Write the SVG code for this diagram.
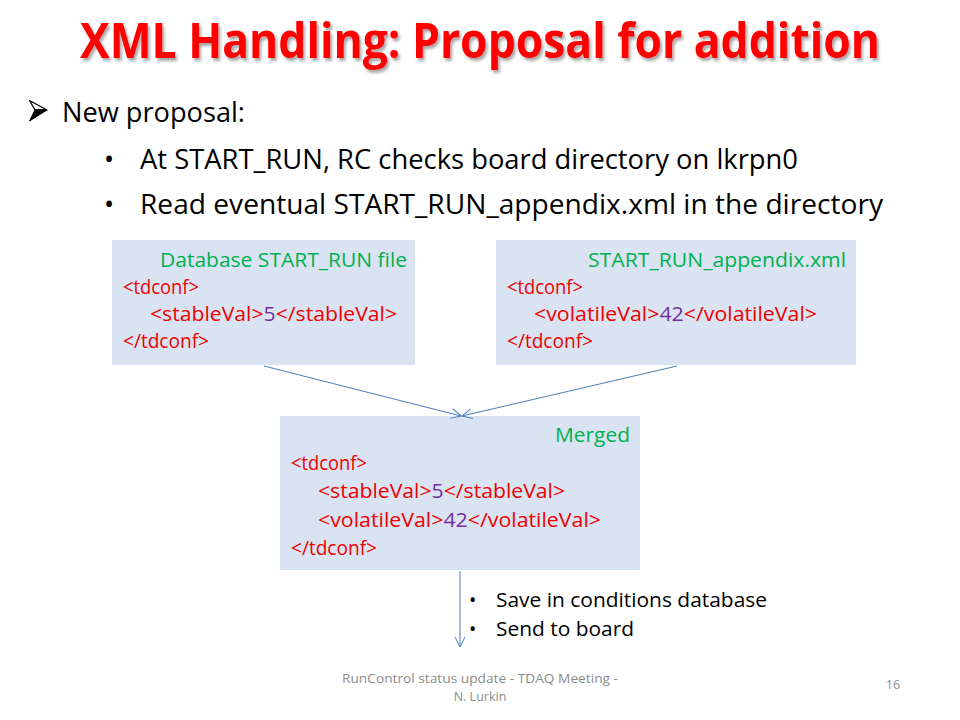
<svg xmlns="http://www.w3.org/2000/svg" width="960" height="720" viewBox="0 0 960 720">
<defs>
<style>
.t{font-family:"Open Sans","Liberation Sans",sans-serif;}
.box{fill:#dae3f1;}
.g{fill:#00b050;font-size:19.5px;}
.r{fill:#f00000;font-size:19.5px;}
.p{fill:#7030a0;}
.body{fill:#000;font-size:27px;}
.small{fill:#000;font-size:19.5px;}
.foot{fill:#8c8c8c;font-size:12.5px;}
.conn{stroke:#4a7ebb;stroke-width:1;fill:none;}
</style>
<marker id="ah" viewBox="0 0 12 12" refX="11" refY="6" markerWidth="12" markerHeight="12" markerUnits="userSpaceOnUse" orient="auto">
<path d="M1,1 L11,6 L1,11" fill="none" stroke="#4a7ebb" stroke-width="1"/>
</marker>
<filter id="sh" x="-5%" y="-20%" width="110%" height="150%">
<feDropShadow dx="2" dy="3" stdDeviation="1.5" flood-color="#000" flood-opacity="0.35"/>
</filter>
</defs>
<rect width="960" height="720" fill="#ffffff"/>

<g id="title">
<text class="t" x="480" y="58" text-anchor="middle" font-size="48" font-weight="bold" fill="#ff0000" filter="url(#sh)" textLength="800" lengthAdjust="spacingAndGlyphs">XML Handling: Proposal for addition</text>
</g>

<g id="bullets">
<g id="arrow-bullet">
<polygon points="29.5,100.5 47,110 35,110" fill="#ffffff" stroke="#000" stroke-width="1.3" stroke-linejoin="round"/>
<polygon points="35,110 47,110 29.5,121" fill="#000" stroke="#000" stroke-width="1" stroke-linejoin="round"/>
</g>
<text class="t body" x="62" y="122" textLength="183" lengthAdjust="spacingAndGlyphs">New proposal:</text>
<text class="t body" x="104" y="169">•</text>
<text class="t body" x="140" y="169" textLength="658" lengthAdjust="spacingAndGlyphs">At START_RUN, RC checks board directory on lkrpn0</text>
<text class="t body" x="104" y="214">•</text>
<text class="t body" x="140" y="214" textLength="743" lengthAdjust="spacingAndGlyphs">Read eventual START_RUN_appendix.xml in the directory</text>
</g>

<g id="db-file">
<rect class="box" x="112" y="240" width="303" height="125"/>
<text class="t g" x="160" y="267" textLength="247" lengthAdjust="spacingAndGlyphs">Database START_RUN file</text>
<text class="t r" x="123" y="294" textLength="76" lengthAdjust="spacingAndGlyphs">&lt;tdconf&gt;</text>
<text class="t r" x="150" y="321" textLength="247" lengthAdjust="spacingAndGlyphs">&lt;stableVal&gt;<tspan class="p">5</tspan>&lt;/stableVal&gt;</text>
<text class="t r" x="123" y="348" textLength="86" lengthAdjust="spacingAndGlyphs">&lt;/tdconf&gt;</text>
</g>

<g id="appendix-file">
<rect class="box" x="496" y="240" width="360" height="125"/>
<text class="t g" x="588" y="267" textLength="258" lengthAdjust="spacingAndGlyphs">START_RUN_appendix.xml</text>
<text class="t r" x="507" y="294" textLength="76" lengthAdjust="spacingAndGlyphs">&lt;tdconf&gt;</text>
<text class="t r" x="534" y="321" textLength="283" lengthAdjust="spacingAndGlyphs">&lt;volatileVal&gt;<tspan class="p">42</tspan>&lt;/volatileVal&gt;</text>
<text class="t r" x="507" y="348" textLength="86" lengthAdjust="spacingAndGlyphs">&lt;/tdconf&gt;</text>
</g>

<g id="merged">
<rect class="box" x="280" y="416" width="360" height="154"/>
<text class="t g" x="630" y="442" text-anchor="end" textLength="75" lengthAdjust="spacingAndGlyphs">Merged</text>
<text class="t r" x="291" y="470" textLength="76" lengthAdjust="spacingAndGlyphs">&lt;tdconf&gt;</text>
<text class="t r" x="318" y="498" textLength="247" lengthAdjust="spacingAndGlyphs">&lt;stableVal&gt;<tspan class="p">5</tspan>&lt;/stableVal&gt;</text>
<text class="t r" x="318" y="527" textLength="283" lengthAdjust="spacingAndGlyphs">&lt;volatileVal&gt;<tspan class="p">42</tspan>&lt;/volatileVal&gt;</text>
<text class="t r" x="291" y="555" textLength="86" lengthAdjust="spacingAndGlyphs">&lt;/tdconf&gt;</text>
</g>

<g id="connectors">
<line class="conn" x1="264" y1="366" x2="461" y2="416" marker-end="url(#ah)"/>
<line class="conn" x1="677" y1="366" x2="462" y2="416" marker-end="url(#ah)"/>
<line class="conn" x1="460" y1="571" x2="460" y2="647" marker-end="url(#ah)"/>
</g>

<g id="actions">
<text class="t small" x="469" y="607">•</text>
<text class="t small" x="496" y="607" textLength="271" lengthAdjust="spacingAndGlyphs">Save in conditions database</text>
<text class="t small" x="469" y="636">•</text>
<text class="t small" x="496" y="636" textLength="138" lengthAdjust="spacingAndGlyphs">Send to board</text>
</g>

<g id="footer">
<text class="t foot" x="480" y="683" text-anchor="middle" textLength="276" lengthAdjust="spacingAndGlyphs">RunControl status update - TDAQ Meeting -</text>
<text class="t foot" x="480" y="701" text-anchor="middle">N. Lurkin</text>
<text class="t foot" x="893" y="689" text-anchor="middle">16</text>
</g>
</svg>
